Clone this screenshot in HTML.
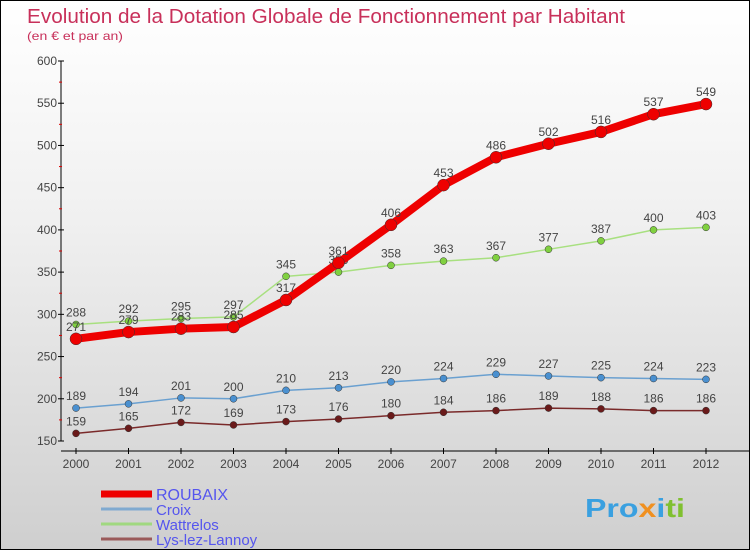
<!DOCTYPE html>
<html><head><meta charset="utf-8"><style>
body{margin:0}
#c{width:750px;height:550px;position:relative;box-sizing:border-box;border:1px solid #000;background:linear-gradient(#ffffff,#f0f0f0 40%,#cfcfcf);font-family:"Liberation Sans",sans-serif;overflow:hidden}
text{font-family:"Liberation Sans",sans-serif}
</style></head><body>
<div id="c">
<svg id="s" width="750" height="550" style="position:absolute;left:0;top:0">
<text x="26" y="22" font-size="20" textLength="598" lengthAdjust="spacingAndGlyphs" fill="#c8305a">Evolution de la Dotation Globale de Fonctionnement par Habitant</text>
<text x="26" y="39" font-size="12" textLength="96" lengthAdjust="spacingAndGlyphs" fill="#c8305a">(en € et par an)</text>
</svg>
</div>
<script>
const years=[2000,2001,2002,2003,2004,2005,2006,2007,2008,2009,2010,2011,2012];
const roubaix=[271,279,283,285,317,361,406,453,486,502,516,537,549];
const croix=[189,194,201,200,210,213,220,224,229,227,225,224,223];
const wattrelos=[288,292,295,297,345,350,358,363,367,377,387,400,403];
const lys=[159,165,172,169,173,176,180,184,186,189,188,186,186];
const yTicks=[150,200,250,300,350,400,450,500,550,600];
const NS='http://www.w3.org/2000/svg';
const s=document.getElementById('s');
const X=i=>75+i*52.5, Y=v=>440-(v-150)*380/450;
function el(t,a,p){const e=document.createElementNS(NS,t);for(const k in a)e.setAttribute(k,a[k]);(p||s).appendChild(e);return e;}
let ax=el('g',{});


el('line',{x1:60,y1:Y(600),x2:60,y2:Y(150),stroke:'#000'},ax);
yTicks.forEach(v=>{el('line',{x1:57,x2:63,y1:Y(v),y2:Y(v),stroke:'#000'},ax);
 if(v<600){el('line',{x1:58,x2:61,y1:Y(v+25),y2:Y(v+25),stroke:'#d00'},ax);}
 const t=el('text',{x:56,y:Y(v)+4,'font-size':12,fill:'#444','text-anchor':'end'},ax);t.textContent=v;
 
 });
let xa=el('g',{});


el('line',{x1:60,y1:450,x2:750,y2:450,stroke:'#000'},xa);
years.forEach((y,i)=>{el('line',{x1:X(i),x2:X(i),y1:447,y2:453,stroke:'#000'},xa);
 const t=el('text',{x:X(i),y:467,'font-size':12,fill:'#444','text-anchor':'middle'},xa);t.textContent=y;
 
 });
function series(d,name,col,w,r,dot){
 const g=el('g',{});
 
 
 el('polyline',{points:d.map((v,i)=>X(i)+','+Y(v)).join(' '),fill:'none',stroke:col,'stroke-width':w,'stroke-linejoin':'round'},g);
 d.forEach((v,i)=>{const c=el('circle',{cx:X(i),cy:Y(v),r:r,fill:dot,stroke:'#333','stroke-width':0.5},g);
  
  
  const t=el('text',{x:X(i),y:Y(v)-8,'font-size':12,fill:'#444','text-anchor':'middle'},g);t.textContent=v;
  
  });
}
series(lys,'lys-lez-lannoy','#7a2a2a',1.5,3.5,'#6a1a1a');
series(croix,'croix','#6aa0d0',1.5,3.5,'#4a90d0');
series(wattrelos,'wattrelos','#a8e080',1.5,3.5,'#80d040');
series(roubaix,'roubaix','#ee0000',8,6,'#ee0000');
const leg=[['ROUBAIX','#ee0000',7],['Croix','#80aad0',3],['Wattrelos','#a0d880',3],['Lys-lez-Lannoy','#9a5a5a',3]];
leg.forEach((l,i)=>{const y=493+i*15;const g=el('g',{});
 
 
 el('line',{x1:100,x2:151,y1:y,y2:y,stroke:l[1],'stroke-width':l[2]},g);
 const t=el('text',{x:155,y:y+6,'font-size':i==0?16:15,fill:'#5555ee'},g);t.textContent=l[0];});
const p=el('text',{x:584,y:516,'font-size':26,'font-weight':'bold',fill:'#3aa0e0',textLength:100,lengthAdjust:'spacingAndGlyphs'});
p.innerHTML='<tspan fill="#3aa0e0">Pro</tspan><tspan fill="#f09020">x</tspan><tspan fill="#3aa0e0">i</tspan><tspan fill="#80c030">ti</tspan>';


</script>
</body></html>
